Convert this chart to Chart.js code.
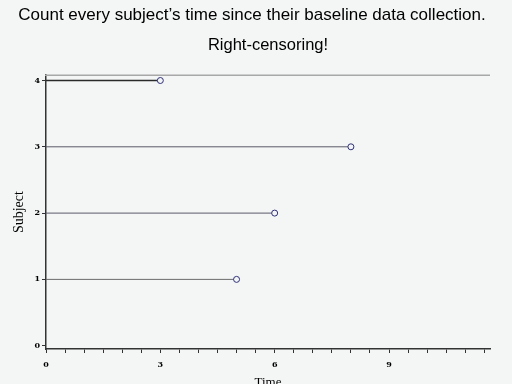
<!DOCTYPE html>
<html>
<head>
<meta charset="utf-8">
<script src="https://cdn.jsdelivr.net/npm/chart.js@4/dist/chart.umd.min.js"></script>
<style>
html,body{margin:0;padding:0;background:#f3f6f4;}
#wrap{width:512px;height:384px;}
</style>
</head>
<body>
<div id="wrap"><canvas id="c" width="512" height="384"></canvas></div>
<script>
const subjects = [1, 2, 3, 4];
const times = [5, 6, 8, 3];
const xTickLabels = [0, 3, 6, 9];
const yTickLabels = [0, 1, 2, 3, 4];
const titleText = "Count every subject\u2019s time since their baseline data collection.";
const subtitleText = "Right-censoring!";

const lineColors = ['#6a6a6a', '#5a5a6a', '#5a5a6a', '#2a2a2a'];
const datasets = subjects.map((s, i) => ({
  label: 'Subject ' + s,
  data: [{x: 0, y: s}, {x: times[i], y: s}],
  showLine: true,
  borderColor: lineColors[i],
  borderWidth: i === 3 ? 1.5 : 1,
  pointRadius: [0, 3],
  pointBorderColor: '#2e2e78',
  pointBackgroundColor: '#f3f6f4',
  pointBorderWidth: 1
}));

const topLine = {
  id: 'topLine',
  afterDraw(chart) {
    const a = chart.chartArea, ctx = chart.ctx;
    ctx.save();
    ctx.strokeStyle = '#a8a8a8';
    ctx.lineWidth = 1.5;
    ctx.beginPath();
    ctx.moveTo(a.left - 1, a.top);
    ctx.lineTo(a.right, a.top);
    ctx.stroke();
    ctx.restore();
  }
};

new Chart(document.getElementById('c'), {
  type: 'scatter',
  data: { datasets },
  options: {
    responsive: false,
    animation: false,
    layout: { padding: { left: 0, right: 8, top: 0, bottom: 0 } },
    plugins: {
      legend: { display: false },
      tooltip: { enabled: false },
      title: {
        display: true,
        text: titleText,
        color: '#000',
        fullSize: true,
        font: { family: 'Liberation Sans', size: 17, weight: 'normal', lineHeight: 1.2 },
        padding: { top: 5, bottom: 10 }
      },
      subtitle: {
        display: true,
        text: subtitleText,
        color: '#000',
        fullSize: false,
        font: { family: 'Liberation Sans', size: 16.5, weight: 'normal', lineHeight: 1.2 },
        padding: { top: 0, bottom: 20 }
      }
    },
    scales: {
      x: {
        type: 'linear',
        min: 0,
        max: 11.65,
        afterBuildTicks(scale) {
          const t = [];
          for (let v = 0; v <= 11.5; v += 0.5) t.push({ value: v });
          scale.ticks = t;
        },
        afterFit(scale) { scale.height = 35; },
        ticks: {
          autoSkip: false,
          maxRotation: 0,
          padding: 7,
          color: '#000',
          font: { family: 'DejaVu Serif', size: 8, weight: 'bold' },
          callback(v) { return xTickLabels.includes(v) ? String(v) : ''; }
        },
        grid: { display: true, drawOnChartArea: false, drawTicks: true, tickLength: 4, color: '#333' },
        border: { display: true, color: '#333', width: 1.5 },
        title: {
          display: true,
          text: 'Time',
          color: '#000',
          font: { family: 'Liberation Serif', size: 13 },
          padding: { top: 0, bottom: -6 }
        }
      },
      y: {
        type: 'linear',
        min: -0.05,
        max: 4.08,
        afterBuildTicks(scale) { scale.ticks = yTickLabels.map(v => ({ value: v })); },
        afterFit(scale) { scale.width = 46; },
        ticks: {
          autoSkip: false,
          padding: 2,
          color: '#000',
          font: { family: 'DejaVu Serif', size: 8, weight: 'bold' }
        },
        grid: { display: true, drawOnChartArea: false, drawTicks: true, tickLength: 4, color: '#333' },
        border: { display: true, color: '#333', width: 1.5 },
        title: {
          display: true,
          text: 'Subject',
          color: '#000',
          font: { family: 'Liberation Serif', size: 14 },
          padding: { top: 11, bottom: 0 }
        }
      },
      yR: {
        type: 'linear',
        position: 'right',
        display: true,
        afterFit(scale) { scale.width = 14; },
        ticks: { display: false },
        grid: { display: false },
        border: { display: false }
      }
    }
  },
  plugins: [topLine]
});
</script>
</body>
</html>
